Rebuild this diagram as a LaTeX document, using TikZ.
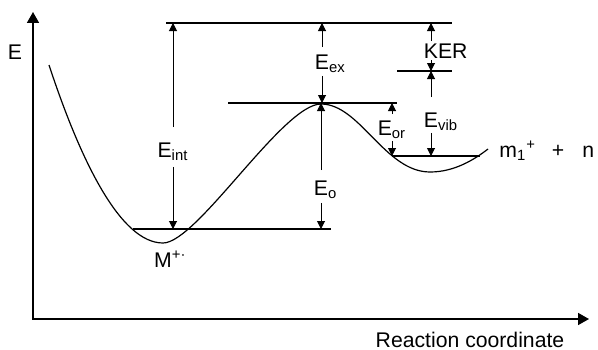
\documentclass[tikz,border=0pt]{standalone}
\usepackage{fontspec}
\setmainfont{Liberation Sans}
\usetikzlibrary{arrows.meta}

\begin{document}
\begin{tikzpicture}[x=0.5pt, y=0.5pt,
   axis/.style={line width=0.8pt, {Triangle[length=5.5pt, width=6pt]}-{Triangle[length=5.5pt, width=6pt]}},
   level/.style={line width=0.6pt},
   arr/.style={line width=0.5pt, -{Triangle[length=4pt, width=4pt]}},
   lbl/.style={inner sep=1pt, anchor=base, font=\fontsize{10.6}{12}\selectfont},
   pes/.style={line width=0.6pt}
]
\useasboundingbox (0,0) rectangle (598,349);

% Axes
\coordinate (ytip) at (33,337);
\coordinate (origin) at (33,30);
\coordinate (xtip) at (589,30);
\draw[axis] (ytip) -- (origin) -- (xtip);
\node [lbl] (energy) at (15,290) {E};
\node [lbl] (coord) at (470,2) {Reaction coordinate};

% Potential energy curve
\draw[pes] (49,284) .. controls (80,190) and (120,106) .. (163,106)
   .. controls (197,106) and (283,245) .. (321,245)
   .. controls (360,245) and (385,177) .. (430,177)
   .. controls (455,177) and (475,190) .. (488,200);

% Levels
\coordinate (top) at (166,326);  \coordinate (topend) at (452,326);
\coordinate (ker) at (397,278);  \coordinate (kerend) at (452,278);
\coordinate (bar) at (228,246);  \coordinate (barend) at (397,246);
\coordinate (prod) at (392,193); \coordinate (prodend) at (480,193);
\coordinate (min) at (133,120);  \coordinate (minend) at (331,120);
\draw[level] (top) -- (topend);
\draw[level] (ker) -- (kerend);
\draw[level] (bar) -- (barend);
\draw[level] (prod) -- (prodend);
\draw[level] (min) -- (minend);

% Nodes
\node [lbl] (eint) at (173,192) {E\textsubscript{int}};
\node [lbl] (eex) at (322,280) {E\rlap{\textsubscript{ex}}};
\node [lbl] (eo) at (321,154) {E\rlap{\textsubscript{o}}};
\node [lbl] (kerl) at (431,291) {K\rlap{ER}};
\node [lbl] (evib) at (431,222) {E\rlap{\textsubscript{vib}}};
\node [lbl] (eor) at (392,214) {E\textsubscript{or}};
\node [lbl] (mion) at (163,82) {M\rlap{\textsuperscript{+·}}};
\node [lbl, anchor=base west, inner sep=0pt] (products) at (499,192) {m\textsubscript{1}\textsuperscript{+}\hspace{8pt}+\hspace{9pt}n};

% Arrows
\draw[arr, shorten <=6.5pt] (eint) -- (eint |- top);
\draw[arr, shorten <=2pt] (eint) -- (eint |- min);
\draw[arr, shorten <=2.5pt] (eex) -- (eex |- top);
\draw[arr, shorten <=0.5pt] (eex) -- (eex |- bar);
\draw[arr, shorten <=4pt] (eo) -- (eo |- bar);
\draw[arr, shorten <=1pt] (eo) -- (eo |- min);
\draw[arr] (kerl) -- (kerl |- top);
\draw[arr] (kerl) -- (kerl |- ker);
\draw[arr, shorten <=6.5pt] (evib) -- (evib |- ker);
\draw[arr] (evib) -- (evib |- prod);
\draw[arr, shorten <=2pt] (eor) -- (eor |- bar);
\draw[arr] (eor) -- (eor |- prod);
\end{tikzpicture}
\end{document}
